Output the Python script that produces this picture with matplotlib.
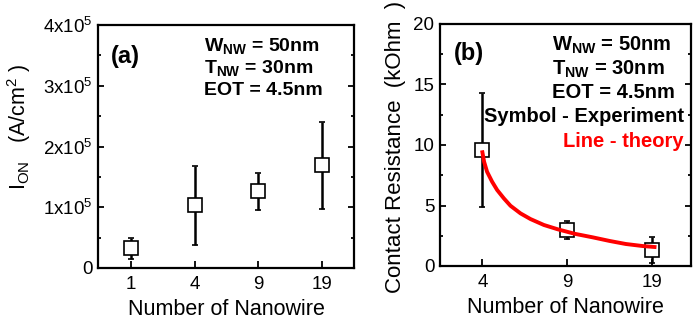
import matplotlib
matplotlib.use("Agg")
import matplotlib.pyplot as plt
from matplotlib.ticker import MultipleLocator

plt.rcParams['font.family'] = ['Liberation Sans', 'DejaVu Sans']
plt.rcParams['mathtext.fontset'] = 'custom'
plt.rcParams['mathtext.rm'] = 'Liberation Sans'
plt.rcParams['mathtext.bf'] = 'Liberation Sans:bold'
plt.rcParams['mathtext.default'] = 'regular'

# ---- data ----
nw_a = ["1", "4", "9", "19"]
ion = [0.33e5, 1.04e5, 1.26e5, 1.69e5]
ion_lo = [0.15e5, 0.38e5, 0.96e5, 0.97e5]
ion_hi = [0.50e5, 1.68e5, 1.56e5, 2.40e5]
ion_ticks = [0, 1e5, 2e5, 3e5, 4e5]
ion_ticklabels = ["0", r"1x10$^5$", r"2x10$^5$", r"3x10$^5$", r"4x10$^5$"]

nw_b = ["4", "9", "19"]
rc = [9.6, 2.98, 1.32]
rc_lo = [4.85, 2.23, 0.27]
rc_hi = [14.3, 3.75, 2.42]
theory_pos = [1.0, 1.02, 1.055, 1.115, 1.174, 1.253, 1.331, 1.449, 1.567,
              1.725, 1.89, 2.09, 2.30, 2.50, 2.69, 2.89, 3.03]
theory_rc = [9.4, 8.62, 7.79, 6.96, 6.28, 5.59, 4.98, 4.35, 3.88,
             3.39, 3.03, 2.66, 2.37, 2.07, 1.82, 1.65, 1.57]

fig = plt.figure(figsize=(6.94, 3.21), dpi=100)
axa = fig.add_axes([98/694, 1-268/321, (354-98)/694, (268-25)/321])
axb = fig.add_axes([440/694, 1-266/321, (691-440)/694, (266-24)/321])

TICK_FS = 13.5
LABEL_FS = 15.5
NOTE_FS = 14.5

def style(ax):
    for s in ax.spines.values():
        s.set_linewidth(1.6)
    ax.tick_params(which='both', direction='in', right=True, top=False,
                   labelsize=TICK_FS, width=1.3, pad=4)
    ax.tick_params(which='major', length=4)
    ax.tick_params(which='minor', length=2.5)
    ax.tick_params(axis='x', which='major', length=5, pad=6)

# panel (a)
xa = list(range(1, len(nw_a) + 1))
err_a = [[v - l for v, l in zip(ion, ion_lo)], [h - v for v, h in zip(ion, ion_hi)]]
axa.errorbar(xa, ion, yerr=err_a, fmt='s', ms=10, mfc='white', mec='black',
             mew=1.2, ecolor='black', elinewidth=1.8, capsize=2.5, capthick=2.5, zorder=3)
axa.set_xlim(0.48, 4.5)
axa.set_ylim(0, 4e5)
axa.set_xticks(xa)
axa.set_xticklabels(nw_a)
axa.set_yticks(ion_ticks)
axa.set_yticklabels(ion_ticklabels)
axa.yaxis.set_minor_locator(MultipleLocator(0.5e5))
style(axa)
axa.set_xlabel("Number of Nanowire", fontsize=LABEL_FS, labelpad=4)
axa.set_ylabel(r"I$_{ON}$   (A/cm$^2$ )", fontsize=LABEL_FS)
axa.yaxis.set_label_coords(-0.255, 0.58)
axa.text(0.05, 0.87, "(a)", transform=axa.transAxes, fontsize=17, fontweight='bold',
         va='center', ha='left')
for t, yb in zip([r"W$_{NW}$ = 50nm", r"T$_{NW}$ = 30nm", "EOT = 4.5nm"],
                 [0.893, 0.802, 0.712]):
    axa.text(0.414, yb, t, transform=axa.transAxes, fontsize=14,
             fontweight='bold', va='baseline', ha='left')

# panel (b)
xb = list(range(1, len(nw_b) + 1))
err_b = [[v - l for v, l in zip(rc, rc_lo)], [h - v for v, h in zip(rc, rc_hi)]]
axb.errorbar(xb, rc, yerr=err_b, fmt='s', ms=10, mfc='white', mec='black',
             mew=1.2, ecolor='black', elinewidth=1.8, capsize=2.5, capthick=2.5, zorder=3)
axb.plot(theory_pos, theory_rc, color='#ff0000', lw=2.8, zorder=4)
axb.set_xlim(0.5, 3.46)
axb.set_ylim(0, 20)
axb.set_xticks(xb)
axb.set_xticklabels(nw_b)
axb.yaxis.set_major_locator(MultipleLocator(5))
axb.yaxis.set_minor_locator(MultipleLocator(2.5))
style(axb)
axb.set_xlabel("Number of Nanowire", fontsize=LABEL_FS, labelpad=4)
axb.set_ylabel("Contact Resistance  (kOhm  )", fontsize=16)
axb.yaxis.set_label_coords(-0.135, 0.49)
axb.text(0.055, 0.88, "(b)", transform=axb.transAxes, fontsize=17, fontweight='bold',
         va='center', ha='left')
for t, yb in zip([r"W$_{NW}$ = 50nm", r"T$_{NW}$ = 30nm", "EOT = 4.5nm"],
                 [0.888, 0.789, 0.693]):
    axb.text(0.445, yb, t, transform=axb.transAxes, fontsize=NOTE_FS,
             fontweight='bold', va='baseline', ha='left')
axb.text(0.972, 0.596, "Symbol - Experiment", transform=axb.transAxes, fontsize=NOTE_FS,
         fontweight='bold', va='baseline', ha='right')
axb.text(0.972, 0.493, "Line - theory", transform=axb.transAxes, fontsize=NOTE_FS,
         fontweight='bold', va='baseline', ha='right', color='#ff0000')

fig.savefig("out.png", dpi=100)
